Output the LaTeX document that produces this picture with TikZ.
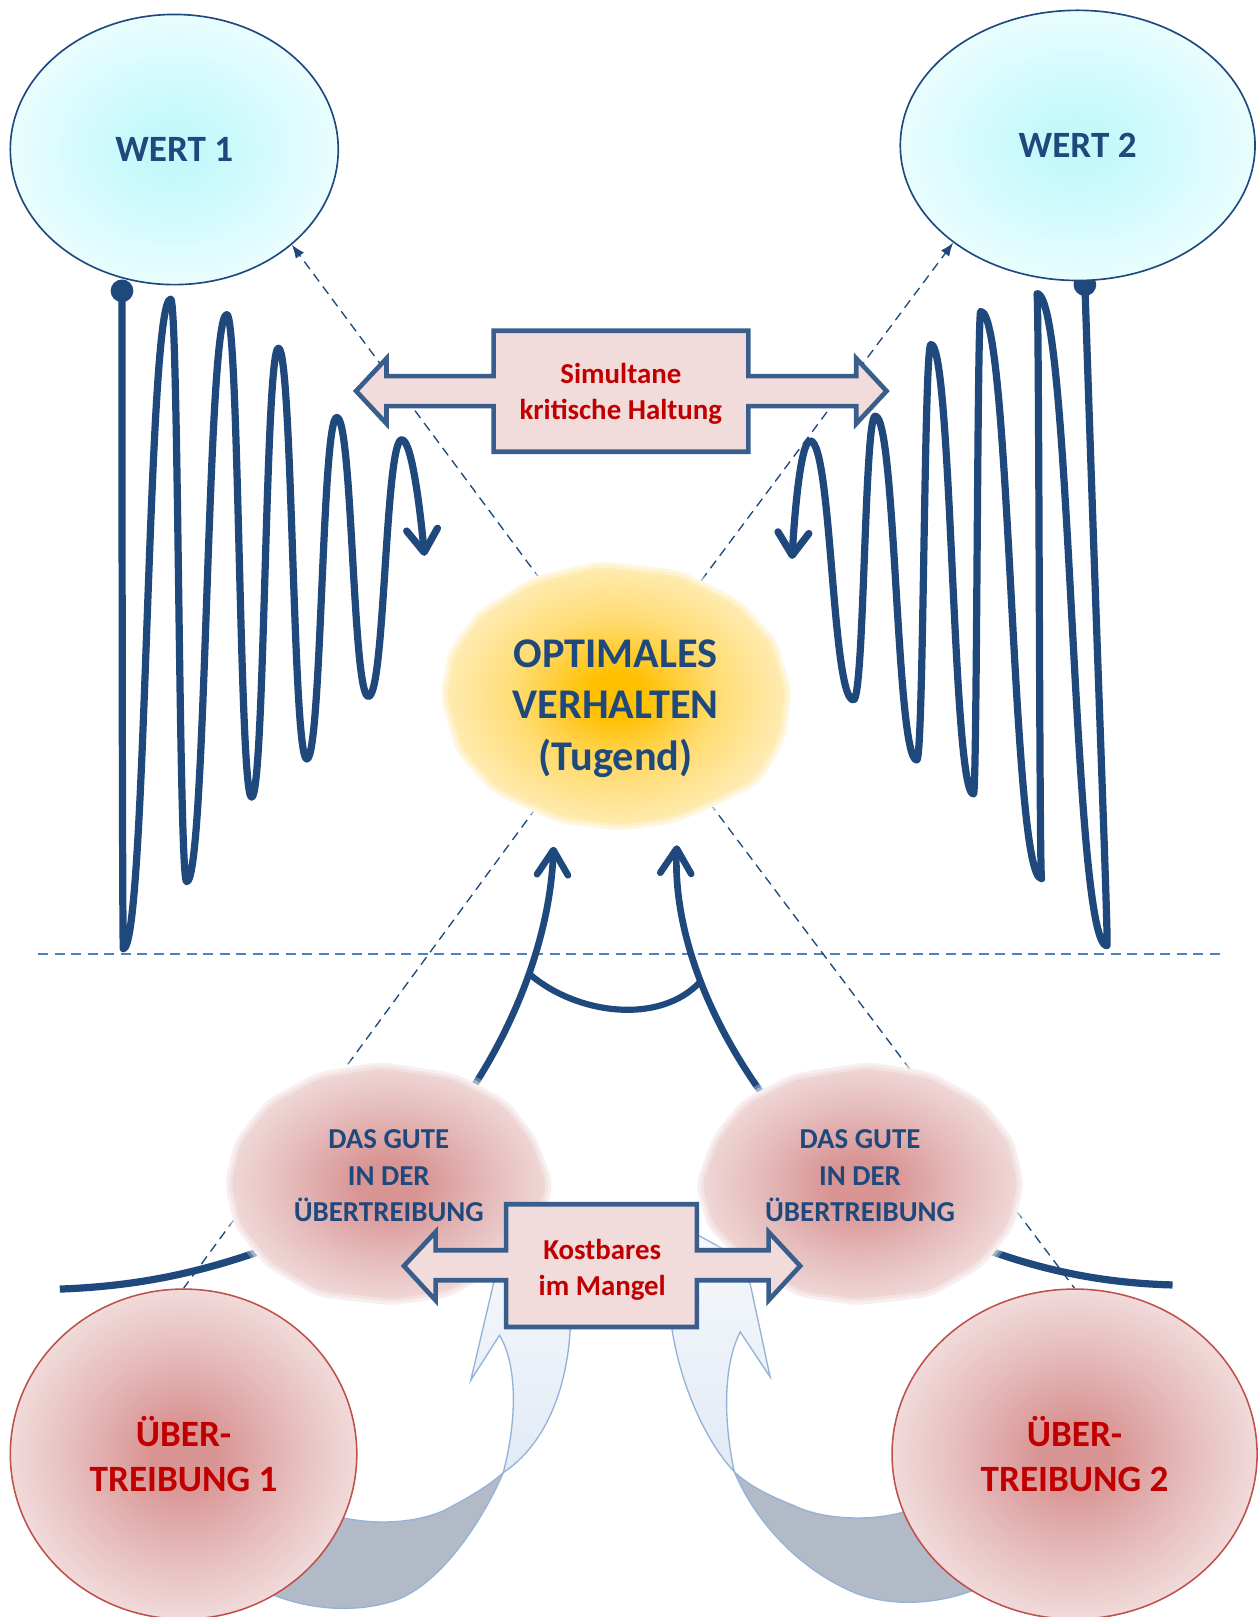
\documentclass[tikz,border=0pt]{standalone}
\usepackage{fontspec}
\setmainfont{Carlito}
\usetikzlibrary{arrows.meta,shapes.geometric}

\definecolor{navy}{HTML}{1F497D}
\definecolor{dashblue}{HTML}{4F81BD}
\definecolor{boxline}{HTML}{3A5E8C}
\definecolor{boxfill}{HTML}{F2DCDB}
\definecolor{redtext}{HTML}{C00000}
\definecolor{circline}{HTML}{C0504D}
\definecolor{rosec}{HTML}{D99594}
\definecolor{rosem}{HTML}{E6BDBD}
\definecolor{rosee}{HTML}{F4E4E4}
\definecolor{cyanc}{HTML}{C4F9FB}
\definecolor{cyane}{HTML}{F2FEFF}
\definecolor{goldc}{HTML}{FFC000}
\definecolor{goldm}{HTML}{FFDB70}
\definecolor{golde}{HTML}{FFF2CC}
\definecolor{flowedge}{HTML}{95B3D7}
\definecolor{flowdark}{HTML}{B1BAC6}
\definecolor{flowtop}{HTML}{F6F9FC}
\definecolor{flowbot}{HTML}{E2EAF5}

\pgfdeclareradialshading{wertglow}{\pgfpointorigin}{color(0bp)=(cyanc); color(5bp)=(cyanc); color(30bp)=(cyane); color(50bp)=(cyane)}
\pgfdeclareradialshading{sunglow}{\pgfpointorigin}{color(0bp)=(goldc); color(4bp)=(goldc); color(14bp)=(goldm); color(28bp)=(golde); color(50bp)=(golde)}
\pgfdeclareradialshading{roseglow}{\pgfpointorigin}{color(0bp)=(rosec); color(5bp)=(rosec); color(16bp)=(rosem); color(28bp)=(rosee); color(50bp)=(rosee)}

\pgfdeclarelayer{back}
\pgfdeclarelayer{mid}
\pgfsetlayers{back,mid,main}

\begin{document}
\begin{tikzpicture}[x=1pt,y=-1pt,
  hdash/.style={draw=dashblue,line width=2.4pt,dash pattern=on 10pt off 6pt},
  ddash/.style={draw=navy,line width=1.3pt,dash pattern=on 9pt off 6pt},
  ddarrow/.style={ddash,-{Latex[length=13pt,width=10pt]}},
  springline/.style={draw=navy,line width=7pt,line cap=round,line join=round},
  thickarc/.style={draw=navy,line width=7pt},
  barbtip/.style={-{Straight Barb[length=22pt,width=30pt,round]}},
  uparrow/.style={draw=navy,line width=6.5pt,-{Straight Barb[length=24pt,width=30pt,round]}},
  wertnode/.style={ellipse,inner sep=0pt,draw=navy,line width=1.6pt,shade,shading=wertglow,text=navy,font=\fontsize{36}{40}\selectfont\bfseries},
  uebnode/.style={ellipse,inner sep=0pt,draw=circline,line width=1.5pt,shade,shading=roseglow,text=redtext,align=center,font=\fontsize{36}{44}\selectfont\bfseries},
  arrowbox/.style={fill=boxfill,draw=boxline,line width=4.5pt,line join=miter},
  boxtext/.style={text=redtext,align=center,font=\fontsize{28}{35}\selectfont\bfseries},
  gutetext/.style={text=navy,align=center,font=\fontsize{28}{35}\selectfont\bfseries},
  opttext/.style={text=navy,align=center,font=\fontsize{41}{50}\selectfont\bfseries},
  softedge/.style={postaction={draw=white,line width=12pt,draw opacity=0.3},
                   postaction={draw=white,line width=6pt,draw opacity=0.4}},
  blobfill/.style={shade,shading=roseglow,rounded corners=10pt,softedge},
  flowback/.style={fill=flowdark,draw=flowedge,line width=1.3pt},
  flowfront/.style={top color=flowtop,bottom color=flowbot,draw=flowedge,line width=1.3pt},
]
\useasboundingbox (0,0) rectangle (1220,1568);

% ---------- nodes ----------
\node[wertnode,minimum width=318pt,minimum height=262pt] (wert1) at (169,145) {WERT 1};
\node[wertnode,minimum width=344pt,minimum height=262pt] (wert2) at (1045,141) {WERT 2};

% double arrow: simultaneous critical attitude
\draw[arrowbox] (478.7,320.7) -- (725.7,320.7) -- (725.7,364.7) -- (830.3,364.7) -- (830.3,347.6)
  -- (859.7,379.2) -- (830.3,410.8) -- (830.3,393.8) -- (725.7,393.8) -- (725.7,438.1)
  -- (478.7,438.1) -- (478.7,393.8) -- (374.8,393.8) -- (374.8,410.8) -- (345.3,379.2)
  -- (374.8,347.6) -- (374.8,364.7) -- (478.7,364.7) -- cycle;
\node[boxtext] (simul) at (602,382) {Simultane\\kritische Haltung};

\node[opttext] (opt) at (597,687) {OPTIMALES\\VERHALTEN\\(Tugend)};

\node[gutetext] (gut1) at (377,1140) {DAS GUTE\\IN DER\\ÜBERTREIBUNG};
\node[gutetext] (gut2) at (834,1140) {DAS GUTE\\IN DER\\ÜBERTREIBUNG};

% double arrow: precious in the lack
\draw[arrowbox] (490.8,1167.8) -- (675.7,1167.8) -- (675.7,1212.4) -- (745.3,1212.4) -- (745.3,1194.6)
  -- (775.9,1227.6) -- (745.3,1260.9) -- (745.3,1241.5) -- (675.7,1241.5) -- (675.7,1286.8)
  -- (490.8,1286.8) -- (490.8,1241.5) -- (422.4,1241.5) -- (422.4,1260.9) -- (391.7,1227.6)
  -- (422.4,1194.6) -- (422.4,1212.4) -- (490.8,1212.4) -- cycle;
\node[boxtext] (kost) at (584,1231) {Kostbares\\im Mangel};

\node[uebnode,minimum width=336pt,minimum height=320pt] (ueb1) at (178,1410) {ÜBER-\\TREIBUNG 1};
\node[uebnode,minimum width=354pt,minimum height=320pt] (ueb2) at (1042,1410) {ÜBER-\\TREIBUNG 2};

% ---------- named points ----------
\coordinate (s1) at (118.3,282);
\coordinate (e1) at (411.6,539);
\coordinate (s2) at (1052,276);
\coordinate (e2) at (768,542);
\coordinate (optNW) at (524,562);
\coordinate (optNE) at (680,563);
\coordinate (optSW) at (520,783);
\coordinate (optSE) at (688,778.5);
\coordinate (g1s) at (455,1060);
\coordinate (g1e) at (536.7,821);
\coordinate (g2s) at (740,1062);
\coordinate (g2e) at (656.3,819.6);
\coordinate (smileL) at (514,945);
\coordinate (smileR) at (679,952);
\coordinate (hl) at (37,925);
\coordinate (hr) at (1183,925);
\coordinate (arcL) at (58,1250);
\coordinate (arcR) at (1137,1246);

% ---------- blobs ----------
\begin{pgfonlayer}{mid}
  \path[shade,shading=sunglow,rounded corners=10pt,softedge]
    (582,543.8) -- (659.6,552.9) -- (717.7,582) -- (753.3,620.8) -- (767.9,669.3)
    -- (761.4,717.7) -- (737.1,759.8) -- (691.9,782.4) -- (653.1,798.6) -- (601.4,805.7)
    -- (543.2,798.6) -- (478.5,769.5) -- (443,730.7) -- (426.8,675.7) -- (434.8,630.5)
    -- (462.3,593.3) -- (517.3,559.3) -- cycle;
  \begin{scope}[shift={(377,1147)}]
    \path[blobfill] (-7.6,-117.3) -- (64.8,-106) -- (115,-80) -- (142.8,-44.5) -- (159.5,0.7)
      -- (148.4,42.8) -- (109.4,81.6) -- (59.3,110.7) -- (3.6,118.8) -- (-68.8,110.7)
      -- (-118.9,81.6) -- (-149.5,42.8) -- (-159,0.7) -- (-149.5,-41.3) -- (-118.9,-80)
      -- (-68.8,-107.5) -- cycle;
  \end{scope}
  \begin{scope}[shift={(834,1147)},xscale=-1]
    \path[blobfill] (-7.6,-117.3) -- (64.8,-106) -- (115,-80) -- (142.8,-44.5) -- (159.5,0.7)
      -- (148.4,42.8) -- (109.4,81.6) -- (59.3,110.7) -- (3.6,118.8) -- (-68.8,110.7)
      -- (-118.9,81.6) -- (-149.5,42.8) -- (-159,0.7) -- (-149.5,-41.3) -- (-118.9,-80)
      -- (-68.8,-107.5) -- cycle;
  \end{scope}
\end{pgfonlayer}

% ---------- background drawing ----------
\begin{pgfonlayer}{back}
  \fill[white] (0,0) rectangle (1220,1568);
  \draw[hdash] (hl) -- (hr);

  % lower thick arcs
  \draw[thickarc] (arcL) .. controls (140,1247) and (210,1232) .. (300,1195);
  \draw[thickarc] (arcR) .. controls (1060,1244) and (990,1228) .. (915,1195);

  % dashed construction lines
  \draw[ddarrow] (optNW) -- (wert1.-39);
  \draw[ddarrow] (optNE) -- (wert2.-142.5);
  \draw[ddash] (optSW) -- (ueb1.north);
  \draw[ddash] (optSE) -- (ueb2.north);

  % flow arrows from the exaggerations
  \path[flowback] (488,1428) .. controls (470,1470) and (430,1535) .. (383,1552)
    .. controls (340,1566) and (290,1560) .. (250,1540) -- (300,1462)
    .. controls (350,1482) and (400,1478) .. (430,1465)
    .. controls (455,1452) and (475,1440) .. (488,1428) -- cycle;
  \path[flowfront] (488,1428) .. controls (530,1400) and (550,1345) .. (553,1288)
    -- (556,1235) -- (505,1200) -- (478.5,1244.7) -- (456.5,1338.5) -- (484.3,1294.8)
    .. controls (500,1320) and (503,1370) .. (488,1428) -- cycle;
  \path[flowback] (712,1427) .. controls (730,1470) and (770,1520) .. (830,1545)
    .. controls (870,1560) and (920,1555) .. (960,1535) -- (900,1457)
    .. controls (860,1478) and (800,1475) .. (770,1460)
    .. controls (745,1450) and (725,1440) .. (712,1427) -- cycle;
  \path[flowfront] (712,1427) .. controls (686,1400) and (660,1345) .. (651.5,1288)
    -- (648,1235) -- (670,1194) -- (700.8,1210.8) -- (727.4,1244.7) -- (746.8,1335.2)
    -- (717.8,1291.6) .. controls (703,1320) and (700,1370) .. (712,1427) -- cycle;

  % rising arrows towards the optimum
  \draw[uparrow] (g1s) .. controls (505,985) and (534,900) .. (g1e);
  \draw[uparrow] (g2s) .. controls (688,990) and (653,905) .. (g2e);
  \draw[navy,line width=6pt] (smileL) .. controls (560,984) and (640,994) .. (smileR);

  % oscillation of value 1
  \draw[springline,barbtip] (s1) .. controls (118.3,700) and (119.0,920) .. (119.6,920)
    .. controls (142.5,920) and (142.5,290) .. (165.5,290)
    .. controls (173.25,290) and (173.25,855) .. (181,855)
    .. controls (200.45,855) and (200.45,305) .. (219.9,305)
    .. controls (231.95,305) and (231.95,773) .. (244,773)
    .. controls (257,773) and (257,337.6) .. (270,337.6)
    .. controls (283.75,337.6) and (283.75,736) .. (297.5,736)
    .. controls (312.05,736) and (312.05,404.8) .. (326.6,404.8)
    .. controls (341.9,404.8) and (341.9,675.4) .. (357.2,675.4)
    .. controls (373.4,675.4) and (373.4,426.4) .. (389.6,426.4)
    .. controls (400,426.4) and (408.5,505) .. (e1);
  \fill[navy] (s1) circle[radius=11];

  % oscillation of value 2
  \draw[springline,barbtip] (s2) .. controls (1064.6,660) and (1075,917) .. (1073.4,917)
    .. controls (1039.45,917) and (1039.45,284.7) .. (1005.5,284.7)
    .. controls (1007.75,284.7) and (1007.75,852) .. (1010,852)
    .. controls (980.5,852) and (980.5,302) .. (951,302)
    .. controls (947.5,302) and (947.5,770) .. (944,770)
    .. controls (923.35,770) and (923.35,334) .. (902.7,334)
    .. controls (895.85,334) and (895.85,737) .. (889,737)
    .. controls (868.85,737) and (868.85,403.5) .. (848.7,403.5)
    .. controls (838.15,403.5) and (838.15,678.7) .. (827.6,678.7)
    .. controls (806.6,678.7) and (806.6,427.5) .. (785.6,427.5)
    .. controls (776,427.5) and (770,505) .. (e2);
  \fill[navy] (s2) circle[radius=11];
\end{pgfonlayer}
\end{tikzpicture}
\end{document}
